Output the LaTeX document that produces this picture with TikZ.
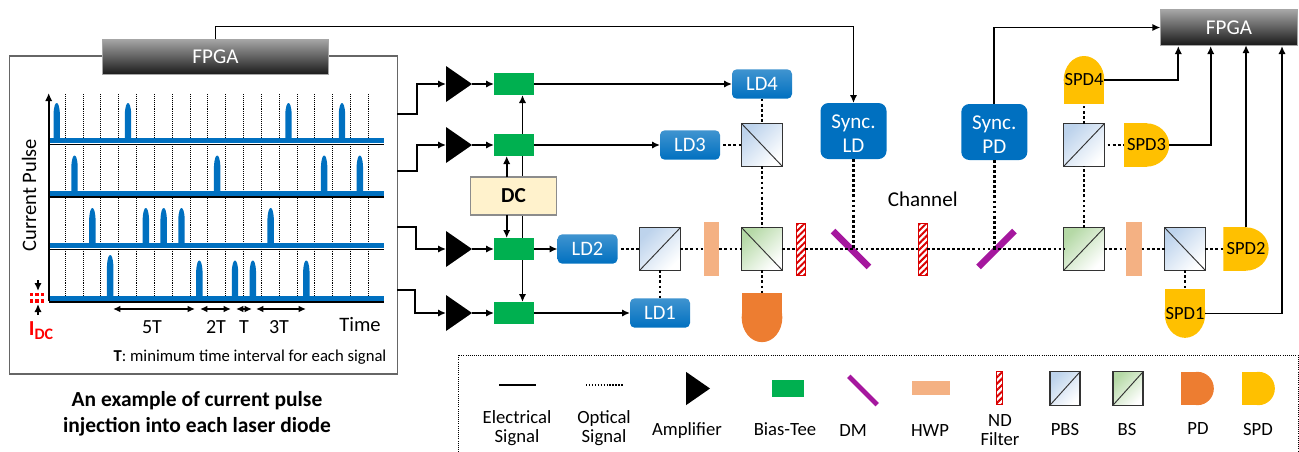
\documentclass[tikz,border=0pt]{standalone}
\usepackage{fontspec}
\setmainfont{Carlito}
\usetikzlibrary{arrows.meta,calc,backgrounds,patterns.meta}
\definecolor{pulseblue}{HTML}{0070C0}
\definecolor{teegreen}{HTML}{00B050}
\definecolor{hwpcol}{HTML}{F4B183}
\definecolor{dmcol}{HTML}{A5179E}
\definecolor{pdcol}{HTML}{ED7D31}
\definecolor{spdcol}{HTML}{FFC000}
\definecolor{dccol}{HTML}{FFF2CC}
\definecolor{pbscol}{HTML}{BDD3EC}
\definecolor{bscol}{HTML}{B5D9A6}
\def\ppb{path picture bounding box}
\newcommand{\fsize}[1]{\fontsize{#1}{#1}\selectfont}
\tikzset{
  elec/.style={line width=1.25pt,-{Latex[length=6pt,width=5.5pt]}},
  optic/.style={line width=2.1pt,dash pattern=on 2.1pt off 1.7pt},
  box/.style={inner sep=0pt,outer sep=0pt,minimum width=#1},
  fpga/.style={box=#1,minimum height=26.5pt,draw=black!35,line width=.8pt,top color=black!35,bottom color=black!90,text=white,font=\fsize{15.8pt}},
  amptri/.style={box=19.5pt,minimum height=27pt,path picture={\fill (\ppb.north west) -- (\ppb.east) -- (\ppb.south west) -- cycle;}},
  biastee/.style={box=30pt,minimum height=16.5pt,fill=teegreen},
  laser/.style={box=45pt,minimum height=22pt,rounded corners=3.5pt,top color=pulseblue!75!white,bottom color=pulseblue,text=white,font=\fsize{15.4pt}},
  syncbox/.style={box=49.5pt,minimum height=42pt,rounded corners=6pt,fill=pulseblue,text=white,align=center,font=\fsize{15.8pt}},
  dcbox/.style={box=65pt,minimum height=28.5pt,fill=dccol,draw=black!45,line width=.8pt,font=\fsize{16pt}\bfseries},
  cube/.style={box=30.5pt,minimum height=32pt,draw=black!80,line width=.9pt,top color=#1,bottom color=white,shading angle=45},
  split/.style={path picture={\draw[line width=.7pt] (\ppb.south west) -- (\ppb.north east);}},
  backsplit/.style={path picture={\draw[line width=.7pt] (\ppb.north west) -- (\ppb.south east);}},
  hwp/.style={box=11.5pt,minimum height=41pt,fill=hwpcol},
  ndfilter/.style={box=6.5pt,minimum height=39pt,draw=red!85!black,line width=.5pt,fill=white,pattern={Lines[angle=45,distance=3.4pt,line width=1.5pt]},pattern color=red!85!black},
  dmbar/.style={box=38pt,minimum height=5pt,fill=dmcol},
  dome/.style n args={3}{inner sep=0pt,outer sep=0pt,path picture={
    \fill[#1] (\ppb.#2) rectangle (\ppb.#3);
    \fill[#1] let \p1=($(\ppb.north east)-(\ppb.center)$) in (\ppb.center) ellipse [x radius=\x1,y radius=\y1];}},
  spdlabel/.style={font=\fsize{13.9pt}},
  txt/.style={font=\fsize{#1},align=center,inner sep=0pt},
  keytxt/.style={font=\fsize{14pt},align=center,inner sep=0pt},
}
\begin{document}
\begin{tikzpicture}[x=.75pt,y=-.75pt]
\useasboundingbox (0,0) rectangle (1299,451);

\node[box=290.5pt,minimum height=238.5pt,draw=black!60,line width=.8pt] (pulsebox) at (203.5,215) {};
\node[fpga=169pt] (fpgaTx) at (215.5,57) {FPGA};
\node[fpga=103pt] (fpgaRx) at (1229,27.5) {FPGA};

\foreach \i in {0,...,17}
  \draw[line width=.45pt,densely dotted] ({65+17.84*\i},94) -- ({65+17.84*\i},301);

\foreach[count=\row, evaluate=\row as \ybase using 88.5+52.5*\row] \pulses in {{0,4,13,16},{1,9,15,17},{2,5,6,7,12},{3,8,10,11,14}}{
  \fill[pulseblue] (49,\ybase-2.7) rectangle (384,\ybase+2.4);
  \draw[line width=1.1pt] (49,\ybase+3.4) -- (384,\ybase+3.4);
  \foreach \k in \pulses{
    \pgfmathsetmacro\px{56.7+17.83*\k}
    \pgfmathsetmacro\ph{\k==3?43.5:38}
    \fill[pulseblue] (\px-3.2,\ybase) -- (\px-3.2,\ybase-\ph+11) .. controls (\px-2.8,\ybase-\ph+3) and (\px-1.4,\ybase-\ph) .. (\px,\ybase-\ph) .. controls (\px+1.4,\ybase-\ph) and (\px+2.8,\ybase-\ph+3) .. (\px+3.2,\ybase-\ph+11) -- (\px+3.2,\ybase) -- cycle;
  }
}
\coordinate (axisO) at (48.7,301);
\coordinate (axisY) at (48.7,93);
\draw[elec] (axisO) -- (axisY);
\node[txt=15.4pt,rotate=90] (ylabel) at (29,195) {Current Pulse};
\node[txt=15.4pt] (xlabel) at (360,324) {Time};

\draw[red,line width=2.4pt,dash pattern=on 2.6pt off 1.5pt] (30,294.5) -- (46,294.5) (30,301) -- (46,301);
\coordinate (idcAa) at (38,280);
\coordinate (idcAb) at (38,291);
\coordinate (idcBa) at (38,315);
\coordinate (idcBb) at (38,304);
\draw[elec] (idcAa) -- (idcAb);
\draw[elec] (idcBa) -- (idcBb);
\node[txt=15.8pt,text=red,font=\fsize{16pt}\bfseries] (idc) at (41,331) {I\raisebox{-3pt}{\fsize{12pt}DC}};

\foreach[count=\i] \xa/\xb/\xt/\lab in {113/195/152/5T,200/231/216/2T,236/252/244/T,256/306/279/3T}{
  \coordinate (spanA\i) at (\xa,309);
  \coordinate (spanB\i) at (\xb,309);
  \draw[line width=1.2pt,{Latex[length=5.5pt,width=5pt]}-{Latex[length=5.5pt,width=5pt]}] (spanA\i) -- (spanB\i);
  \node[txt=15pt] (spanlabel\i) at (\xt,327) {\lab};
}
\node[txt=12.5pt] (tnote) at (250,357) {\textbf{T}: minimum time interval for each signal};
\node[font=\fsize{16.1pt}\bfseries,align=center,inner sep=0pt] (caption) at (197,414) {An example of current pulse\\[3.3pt]injection into each laser diode};

\node[laser] (LD4) at (762,84) {LD4};
\node[laser] (LD3) at (690,145) {LD3};
\node[laser] (LD2) at (587.5,249) {LD2};
\node[laser] (LD1) at (660,313) {LD1};
\node[dcbox] (DC) at (513.5,196) {DC};

\foreach \n/\y/\xo/\yo in {4/84/417/114,3/145/417/171,2/249/416/227,1/313/415/290}{
  \node[amptri] (amp\n) at (459,\y) {};
  \node[biastee] (tee\n) at (514,\y) {};
  \coordinate (out\n) at (397,\yo);
  \coordinate (bend\n) at (\xo,\yo);
  \draw[elec] (out\n) -- (bend\n) |- (amp\n);
  \draw[elec] (amp\n) -- (tee\n);
  \draw[elec] (tee\n) -- (LD\n);
}
\coordinate (dcnear) at (506.7,0);
\coordinate (dcfar) at (522.5,0);
\draw[elec] (dcnear |- DC.north) -- (dcnear |- tee3.south);
\draw[elec] (dcnear |- DC.south) -- (dcnear |- tee2.north);
\begin{scope}[on background layer]
\draw[elec] (dcfar |- DC.north) -- (dcfar |- tee4.south);
\draw[elec] (dcfar |- DC.south) -- (dcfar |- tee1.north);
\end{scope}

\node[syncbox] (syncLD) at (853.5,131) {\rule{0pt}{14pt}Sync.\\[2.5pt]LD};
\node[syncbox] (syncPD) at (994.3,132) {\rule{0pt}{14pt}Sync.\\[2.5pt]PD};
\node[txt=15.8pt] (channel) at (922.7,199) {Channel};

\node[cube=pbscol,backsplit] (pbsA) at (762,145) {};
\node[cube=pbscol,split] (pbsB) at (660,249) {};
\node[cube=bscol,backsplit] (bsA) at (762,249) {};
\node[hwp] (hwpA) at (711.7,249) {};
\node[ndfilter] (ndA) at (800.5,249) {};
\node[dmbar,rotate=-45] (dmA) at (851,249) {};
\node[ndfilter] (ndB) at (922.5,249) {};
\node[dmbar,rotate=45] (dmB) at (996.5,249) {};
\node[cube=bscol,split] (bsB) at (1084,249) {};
\node[hwp] (hwpB) at (1134,249) {};
\node[cube=pbscol,backsplit] (pbsC) at (1185,249) {};
\node[cube=pbscol,split] (pbsD) at (1084,145) {};

\node[dome={pdcol}{north west}{east},minimum width=30.5pt,minimum height=37pt] (PD) at (762,317.5) {};
\node[dome={spdcol}{south west}{east},minimum width=30.5pt,minimum height=36pt,spdlabel] (SPD4) at (1084,80) {SPD4};
\node[dome={spdcol}{north west}{south},minimum width=34pt,minimum height=32.5pt,spdlabel] (SPD3) at (1146.5,145) {SPD3};
\node[dome={spdcol}{north west}{south},minimum width=34pt,minimum height=32.5pt,spdlabel] (SPD2) at (1246,249) {SPD2};
\node[dome={spdcol}{north west}{east},minimum width=30.5pt,minimum height=36.5pt,spdlabel] (SPD1) at (1185,313.5) {SPD1};

\draw[optic] (LD4) -- (pbsA);
\draw[optic,shorten <=2.5pt] (LD3) -- (pbsA);
\draw[optic] (pbsA) -- (bsA);
\draw[optic,shorten <=2.5pt] (LD2) -- (pbsB);
\draw[optic] (pbsB) -- (LD1);
\draw[optic] (pbsB) -- (hwpA);
\draw[optic] (hwpA) -- (bsA);
\draw[optic] (bsA) -- (PD);
\draw[optic] (bsA) -- (ndA);
\draw[optic] (ndA) -- (ndB);
\draw[optic] (ndB) -- (bsB);
\draw[optic] (syncLD) -- (syncLD |- dmA);
\draw[optic] (syncPD) -- (syncPD |- dmB);
\draw[optic] (bsB) -- (hwpB);
\draw[optic] (hwpB) -- (pbsC);
\draw[optic] (pbsC) -- (SPD2);
\draw[optic] (pbsC) -- (SPD1);
\draw[optic] (bsB) -- (pbsD);
\draw[optic] (pbsD) -- (SPD4);
\draw[optic,shorten <=2.5pt] (pbsD) -- (SPD3);

\draw[elec] (fpgaTx.north) -- ++(0,-13) -| (syncLD.north);
\draw[elec] (syncPD.north) |- (fpgaRx.west);
\coordinate (tap4) at (1178.3,46);
\coordinate (tap3) at (1210.7,46);
\coordinate (tap1) at (1282,46);
\draw[elec] (SPD4.east) -| (tap4);
\draw[elec] (SPD3.east) -| (tap3);
\draw[elec] (SPD2.north) -- (SPD2.north |- fpgaRx.south);
\draw[elec] (SPD1.east) -| (tap1);

\coordinate (keyBL) at (458,452);
\coordinate (keyTL) at (458,355);
\coordinate (keyTR) at (1298,355);
\coordinate (keyBR) at (1298,452);
\draw[line width=.6pt,densely dotted] (keyBL) -- (keyTL) -- (keyTR) -- (keyBR);

\coordinate (keyEa) at (499,385);
\coordinate (keyEb) at (536,385);
\draw[line width=1.5pt] (keyEa) -- (keyEb);
\coordinate (keyOa) at (586,385);
\coordinate (keyOb) at (623,385);
\draw[line width=1.1pt,dash pattern=on 1.1pt off 1.1pt] (keyOa) -- (keyOb);
\node[amptri,minimum width=18pt,minimum height=25pt] (keyamp) at (698,388.5) {};
\node[biastee,minimum width=24pt,minimum height=13pt] (keytee) at (788,388.5) {};
\node[dmbar,rotate=-45,minimum width=30pt,minimum height=3.6pt] (keydm) at (863,390.5) {};
\node[hwp,minimum width=28.5pt,minimum height=10.5pt] (keyhwp) at (931,388) {};
\node[ndfilter,minimum width=4.5pt,minimum height=25pt] (keynd) at (999,388) {};
\node[cube=pbscol,split,minimum width=22.5pt,minimum height=25pt] (keypbs) at (1065,388.5) {};
\node[cube=bscol,split,minimum width=22.5pt,minimum height=25pt] (keybs) at (1128,388.5) {};
\node[dome={pdcol}{north west}{south},minimum width=24.5pt,minimum height=25pt] (keypd) at (1197.5,388.5) {};
\node[dome={spdcol}{north west}{south},minimum width=24.5pt,minimum height=25pt] (keyspd) at (1258.5,388.5) {};

\node[keytxt] (txtE) at (517,428) {Electrical\\Signal};
\node[keytxt] (txtO) at (604,428) {Optical\\Signal};
\foreach \x/\y/\name in {687/431/Amplifier,785/429/Bias-Tee,853/431/DM,930/431/HWP,1065/429/PBS,1127/429/BS,1198/429/PD,1258/429/SPD}
  \node[keytxt] (txt\name) at (\x,\y) {\name};
\node[keytxt] (txtND) at (1000,430) {ND\\Filter};
\end{tikzpicture}
\end{document}
